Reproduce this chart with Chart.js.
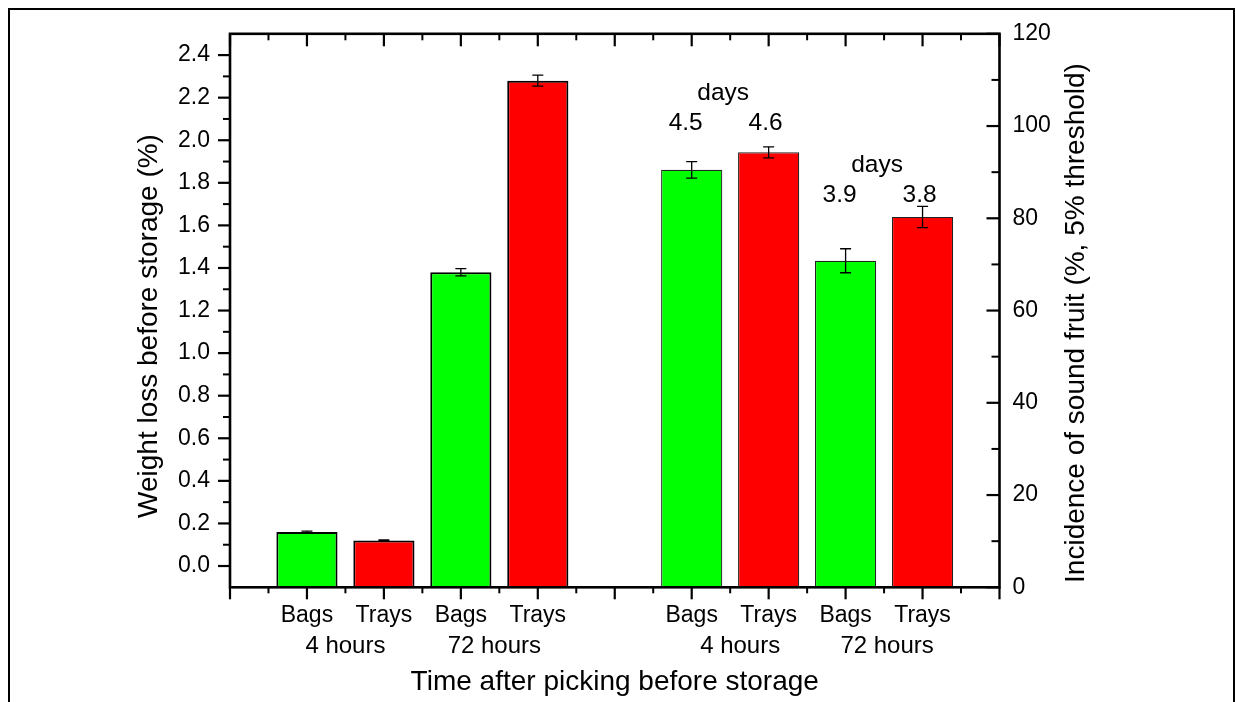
<!DOCTYPE html>
<html lang="en">
<head>
<meta charset="UTF-8">
<title>Weight loss and incidence of sound fruit</title>
<style>
  html, body { margin: 0; padding: 0; background: #fff; overflow: hidden; }
  #frame { position: absolute; left: 8px; top: 8px; width: 1223px; height: 730px; border: 2px solid #000; }
  #chartBox { position: absolute; left: 0; top: 0; width: 1235px; height: 702px; }
</style>
<script src="https://cdn.jsdelivr.net/npm/chart.js"></script>
</head>
<body>
<div id="frame"></div>
<div id="chartBox"><canvas id="fruitChart"></canvas></div>
<script>
// bars in each group: packaging type, for 4 hours then 72 hours
const packaging = ['Bags', 'Trays', 'Bags', 'Trays'];
const delays = ['4 hours', '72 hours'];

// left group: weight loss before storage (%)
const weightLoss = [0.16, 0.12, 1.38, 2.28];
const weightLossErr = [0.004, 0.003, 0.017, 0.026];

// right group: incidence of sound fruit (%, 5% threshold)
const soundFruit = [90.5, 94.3, 70.8, 80.3];
const soundFruitErr = [1.8, 1.2, 2.6, 2.3];

// shelf life written above the right group (days)
const shelfLife = [4.5, 4.6, 3.9, 3.8];

const leftTicks = [0.0, 0.2, 0.4, 0.6, 0.8, 1.0, 1.2, 1.4, 1.6, 1.8, 2.0, 2.2, 2.4];
const rightTicks = [0, 20, 40, 60, 80, 100, 120];

// slots on the x axis: empty, group 1, empty, group 2, empty
const pad = n => Array(n).fill(null);
const labels = ['', ...packaging, '', ...packaging, ''];
const leftData = [null, ...weightLoss, ...pad(6)];
const leftErr = [null, ...weightLossErr, ...pad(6)];
const rightData = [...pad(6), ...soundFruit, null];
const rightErr = [...pad(6), ...soundFruitErr, null];
const colors = labels.map(l => l === 'Trays' ? '#ff0000' : '#00ff00');

const FONT = 'Arial, "Liberation Sans", Helvetica, sans-serif';
Chart.defaults.font.family = FONT;
Chart.defaults.color = '#000';

// frame, ticks, error bars and extra texts
const originStyle = {
  id: 'originStyle',
  afterDatasetsDraw(chart) {
    const { ctx, chartArea: a, scales: { x, y, y2 } } = chart;
    ctx.save();
    ctx.strokeStyle = '#000';
    ctx.fillStyle = '#000';

    // error bars
    chart.data.datasets.forEach((ds, di) => {
      const meta = chart.getDatasetMeta(di);
      const ys = chart.scales[ds.yAxisID];
      ds.errors.forEach((e, i) => {
        if (e == null || ds.data[i] == null) return;
        const px = meta.data[i].x;
        const top = ys.getPixelForValue(ds.data[i] + e);
        const bot = ys.getPixelForValue(ds.data[i] - e);
        ctx.lineWidth = 1.3;
        ctx.beginPath();
        ctx.moveTo(px, top); ctx.lineTo(px, bot);
        ctx.moveTo(px - 5.5, top); ctx.lineTo(px + 5.5, top);
        ctx.moveTo(px - 5.5, bot); ctx.lineTo(px + 5.5, bot);
        ctx.stroke();
      });
    });

    const line = (x1, y1, x2, y2, w) => {
      ctx.lineWidth = w;
      ctx.beginPath(); ctx.moveTo(x1, y1); ctx.lineTo(x2, y2); ctx.stroke();
    };

    // x ticks: bottom outward, top inward
    for (let i = 0; i < labels.length; i++) {
      const px = x.getPixelForValue(i);
      line(px, a.bottom, px, a.bottom + 12, 2.2);
      line(px, a.top, px, a.top + 12.5, 2.2);
      if (i < labels.length - 1) {
        const mx = x.getPixelForValue(i + 0.5);
        line(mx, a.bottom, mx, a.bottom + 6, 2);
        line(mx, a.top, mx, a.top + 6.5, 2);
      }
    }
    // left ticks outward
    leftTicks.forEach((v, i) => {
      const py = y.getPixelForValue(v);
      line(a.left - 12, py, a.left, py, 2.2);
      if (i < leftTicks.length - 1) {
        const my = y.getPixelForValue((v + leftTicks[i + 1]) / 2);
        line(a.left - 7, my, a.left, my, 2);
      }
    });
    // right ticks inward
    rightTicks.forEach((v, i) => {
      const py = y2.getPixelForValue(v);
      line(a.right - 13, py, a.right, py, 2.2);
      if (i < rightTicks.length - 1) {
        const my = y2.getPixelForValue((v + rightTicks[i + 1]) / 2);
        line(a.right - 8, my, a.right, my, 2);
      }
    });
    // axes box
    ctx.lineWidth = 2.6;
    ctx.strokeRect(a.left, a.top, a.width, a.height);

    // second row of x labels: delay under each pair
    ctx.textAlign = 'center';
    ctx.textBaseline = 'middle';
    ctx.font = '24px ' + FONT;
    const nudge = [[0, -5], [10, 3]];
    [1, 6].forEach((start, g) => {
      delays.forEach((d, k) => {
        const s = start + 2 * k;
        const mid = (x.getPixelForValue(s) + x.getPixelForValue(s + 1)) / 2 + nudge[g][k];
        ctx.fillText(d, mid, a.bottom + 59);
      });
    });

    // shelf life annotations above the right group
    ctx.font = '24.5px ' + FONT;
    const levels = [{ days: 107.2, num: 100.7 }, { days: 91.5, num: 85.1 }];
    delays.forEach((d, k) => {
      const s = 6 + 2 * k;
      const p1 = x.getPixelForValue(s), p2 = x.getPixelForValue(s + 1);
      ctx.fillText('days', (p1 + p2) / 2 - 7, y2.getPixelForValue(levels[k].days));
      ctx.fillText(shelfLife[2 * k].toFixed(1), p1 - 6, y2.getPixelForValue(levels[k].num));
      ctx.fillText(shelfLife[2 * k + 1].toFixed(1), p2 - 3, y2.getPixelForValue(levels[k].num));
    });

    // axis titles
    ctx.font = '28px ' + FONT;
    ctx.fillText('Time after picking before storage', (a.left + a.right) / 2, 682);
    const vTitle = (text, cx, cy) => {
      ctx.save();
      ctx.translate(cx, cy);
      ctx.rotate(-Math.PI / 2);
      ctx.fillText(text, 0, 0);
      ctx.restore();
    };
    vTitle('Weight loss before storage (%)', 149, 326);
    vTitle('Incidence of sound fruit (%, 5% threshold)', 1076, 323);
    ctx.restore();
  }
};

const hiddenGrid = { display: false, drawTicks: false };

new Chart(document.getElementById('fruitChart'), {
  type: 'bar',
  data: {
    labels: labels,
    datasets: [{
      label: 'Weight loss before storage (%)',
      data: leftData,
      errors: leftErr,
      yAxisID: 'y',
      base: -0.1,
      backgroundColor: colors,
      borderColor: '#000',
      borderWidth: 2
    }, {
      label: 'Incidence of sound fruit (%, 5% threshold)',
      data: rightData,
      errors: rightErr,
      yAxisID: 'y2',
      backgroundColor: colors,
      borderColor: '#222',
      borderWidth: 1.2
    }]
  },
  options: {
    responsive: true,
    maintainAspectRatio: false,
    animation: false,
    grouped: false,
    barPercentage: 0.795,
    categoryPercentage: 1,
    layout: { padding: { top: 19.3, left: 0, right: 0, bottom: 0 } },
    plugins: { legend: { display: false }, tooltip: { enabled: false } },
    scales: {
      x: {
        type: 'category',
        offset: false,
        grid: hiddenGrid,
        border: { display: false },
        ticks: { autoSkip: false, maxRotation: 0, padding: 15, font: { size: 23 } },
        afterFit: s => { s.height = 114.7; }
      },
      y: {
        position: 'left',
        min: -0.1,
        max: 2.5,
        grid: hiddenGrid,
        border: { display: false },
        ticks: { padding: 20, font: { size: 23 }, callback: v => Number(v).toFixed(1) },
        afterBuildTicks: s => { s.ticks = leftTicks.map(v => ({ value: v })); },
        afterFit: s => { s.width = 230; }
      },
      y2: {
        position: 'right',
        min: 0,
        max: 120,
        grid: hiddenGrid,
        border: { display: false },
        ticks: { padding: 13, font: { size: 23 }, callback: v => String(v) },
        afterBuildTicks: s => { s.ticks = rightTicks.map(v => ({ value: v })); },
        afterFit: s => { s.width = 235.5; }
      }
    }
  },
  plugins: [originStyle]
});
</script>
</body>
</html>
